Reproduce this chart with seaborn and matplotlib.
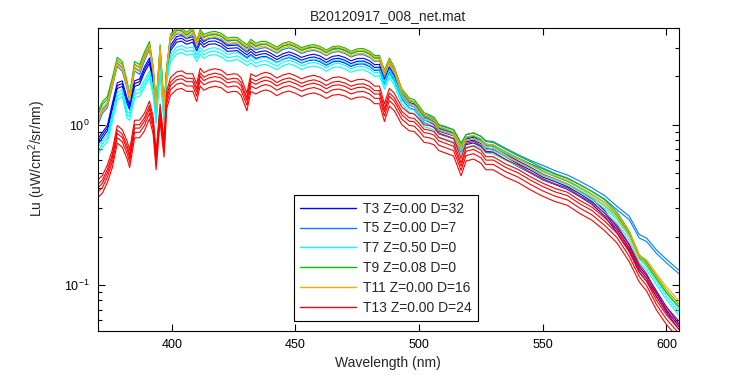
import numpy as np
import pandas as pd
import matplotlib
matplotlib.use("Agg")
import matplotlib.pyplot as plt
from matplotlib.ticker import NullFormatter, FixedLocator
import seaborn as sns

# ---------------- data ----------------
wavelength = [370, 372, 374, 376, 378, 380, 382, 383, 385, 387,
              389, 391, 392.5, 393.7, 395.3, 396.9, 398, 399.5, 402, 404,
              406, 408.5, 410.1, 411.5, 413, 415, 417.5, 420, 422.5, 425,
              426.5, 428, 430.4, 432, 434, 436, 438, 440, 442.5, 445,
              447.5, 450, 452.5, 455, 457.5, 460, 462.5, 465, 467.5, 470,
              472.5, 475, 477.5, 480, 482, 484, 486, 488, 490, 493,
              496, 498, 500, 502, 504, 506, 508, 511, 514, 517,
              519, 522, 525, 527, 530, 535, 540, 545, 550, 555,
              560, 565, 570, 575, 580, 585, 589, 592, 596, 600,
              605]

lu_t3 = [0.78, 0.86, 0.95, 1.3, 1.75, 1.8, 1.4, 1.29, 1.8, 1.85,
         2.2, 2.5, 1.9, 1.12, 2.65, 1.12, 2.2, 3.0, 3.4, 3.45,
         3.3, 3.4, 3.0, 3.35, 3.16, 3.3, 3.32, 3.2, 2.98, 3.0,
         3.01, 2.9, 2.72, 2.85, 2.69, 2.75, 2.77, 2.68, 2.54, 2.66,
         2.73, 2.64, 2.52, 2.6, 2.64, 2.57, 2.44, 2.56, 2.59, 2.52,
         2.4, 2.48, 2.49, 2.4, 2.27, 2.28, 1.85, 2.2, 1.95, 1.5,
         1.32, 1.29, 1.18, 1.07, 1.04, 1.0, 0.91, 0.88, 0.85, 0.7,
         0.78, 0.8, 0.76, 0.71, 0.7, 0.63, 0.57, 0.52, 0.47, 0.44,
         0.41, 0.37, 0.33, 0.28, 0.22, 0.17, 0.125, 0.11, 0.088, 0.07,
         0.055]

lu_t5 = [1.0, 1.2, 1.3, 1.75, 2.35, 2.2, 1.7, 1.42, 2.2, 2.1,
         2.55, 3.0, 2.1, 1.25, 2.9, 1.2, 2.1, 3.4, 3.75, 3.73,
         3.5, 3.75, 3.1, 3.65, 3.4, 3.5, 3.54, 3.45, 3.22, 3.25,
         3.24, 3.1, 2.9, 3.15, 2.98, 3.05, 3.08, 2.98, 2.84, 3.0,
         3.07, 2.97, 2.83, 2.92, 2.96, 2.88, 2.74, 2.88, 2.91, 2.83,
         2.69, 2.78, 2.78, 2.68, 2.53, 2.54, 2.05, 2.45, 2.15, 1.58,
         1.38, 1.35, 1.24, 1.12, 1.1, 1.06, 0.96, 0.93, 0.9, 0.74,
         0.84, 0.86, 0.82, 0.77, 0.76, 0.69, 0.63, 0.58, 0.54, 0.5,
         0.47, 0.43, 0.39, 0.35, 0.3, 0.26, 0.2, 0.19, 0.16, 0.14,
         0.12]

lu_t7 = [0.68, 0.76, 0.82, 1.1, 1.5, 1.58, 1.15, 1.12, 1.55, 1.58,
         1.8, 2.05, 1.6, 1.06, 2.2, 1.06, 1.9, 2.6, 2.9, 2.96,
         2.85, 2.9, 2.6, 2.88, 2.72, 2.84, 2.87, 2.78, 2.61, 2.65,
         2.68, 2.6, 2.45, 2.55, 2.41, 2.48, 2.5, 2.42, 2.31, 2.45,
         2.52, 2.44, 2.32, 2.4, 2.44, 2.38, 2.26, 2.38, 2.41, 2.34,
         2.23, 2.3, 2.31, 2.22, 2.1, 2.12, 1.75, 2.08, 1.85, 1.42,
         1.26, 1.23, 1.13, 1.02, 1.0, 0.97, 0.88, 0.85, 0.82, 0.68,
         0.76, 0.78, 0.75, 0.7, 0.69, 0.63, 0.58, 0.53, 0.48, 0.45,
         0.42, 0.38, 0.34, 0.3, 0.255, 0.2, 0.145, 0.13, 0.105, 0.085,
         0.068]

lu_t9 = [1.15, 1.35, 1.45, 1.9, 2.55, 2.4, 1.8, 1.5, 2.4, 2.3,
         2.75, 3.2, 2.25, 1.32, 3.05, 1.28, 2.25, 3.55, 3.9, 3.89,
         3.65, 3.9, 3.25, 3.8, 3.54, 3.65, 3.7, 3.6, 3.36, 3.4,
         3.39, 3.25, 3.05, 3.3, 3.12, 3.2, 3.21, 3.1, 2.95, 3.12,
         3.19, 3.08, 2.93, 3.02, 3.06, 2.98, 2.83, 2.97, 3.0, 2.92,
         2.78, 2.88, 2.89, 2.78, 2.62, 2.62, 2.12, 2.52, 2.22, 1.62,
         1.42, 1.39, 1.27, 1.15, 1.12, 1.08, 0.97, 0.94, 0.9, 0.74,
         0.84, 0.86, 0.82, 0.76, 0.75, 0.68, 0.62, 0.57, 0.52, 0.48,
         0.45, 0.41, 0.37, 0.33, 0.275, 0.21, 0.15, 0.135, 0.11, 0.09,
         0.074]

lu_t11 = [1.05, 1.25, 1.35, 1.8, 2.45, 2.3, 1.75, 1.46, 2.3, 2.2,
          2.65, 3.1, 2.2, 1.3, 3.0, 1.25, 2.2, 3.5, 3.85, 3.84,
          3.6, 3.85, 3.2, 3.75, 3.49, 3.6, 3.65, 3.55, 3.31, 3.35,
          3.34, 3.2, 3.0, 3.25, 3.07, 3.15, 3.16, 3.05, 2.92, 3.1,
          3.17, 3.05, 2.9, 3.0, 3.03, 2.95, 2.8, 2.95, 2.98, 2.9,
          2.76, 2.85, 2.86, 2.75, 2.59, 2.6, 2.1, 2.5, 2.2, 1.6,
          1.4, 1.36, 1.25, 1.13, 1.1, 1.06, 0.95, 0.92, 0.88, 0.72,
          0.82, 0.84, 0.8, 0.74, 0.73, 0.66, 0.6, 0.55, 0.5, 0.47,
          0.44, 0.4, 0.36, 0.32, 0.27, 0.21, 0.15, 0.14, 0.115, 0.095,
          0.078]

lu_t13 = [0.4, 0.43, 0.5, 0.62, 0.88, 0.83, 0.7, 0.62, 0.95, 0.95,
          1.05, 1.25, 1.0, 0.6, 1.2, 0.72, 1.45, 1.75, 1.9, 1.93,
          1.85, 1.85, 1.6, 2.0, 1.88, 1.95, 1.99, 1.95, 1.82, 1.85,
          1.84, 1.75, 1.4, 1.85, 1.78, 1.85, 1.89, 1.85, 1.74, 1.82,
          1.86, 1.8, 1.72, 1.78, 1.81, 1.76, 1.67, 1.75, 1.77, 1.73,
          1.65, 1.7, 1.71, 1.65, 1.55, 1.55, 1.2, 1.5, 1.4, 1.15,
          1.05, 1.04, 0.97, 0.89, 0.88, 0.86, 0.79, 0.76, 0.73, 0.55,
          0.68, 0.7, 0.66, 0.6, 0.6, 0.54, 0.5, 0.45, 0.41, 0.38,
          0.36, 0.32, 0.29, 0.25, 0.21, 0.16, 0.12, 0.105, 0.08, 0.065,
          0.053]

# relative level of the individual casts within each station (band spread)
gain_t3 = [1.04, 1.0, 0.96]
gain_t5 = [1.03, 0.98]
gain_t7 = [1.05, 1.0, 0.95]
gain_t9 = [1.03, 0.99]
gain_t11 = [1.02, 0.97]
gain_t13 = [1.12, 1.05, 1.0, 0.94, 0.87]

series_names = ["T3", "T5", "T7", "T9", "T11", "T13"]
legend_labels = ["T3 Z=0.00 D=32", "T5 Z=0.00 D=7", "T7 Z=0.50 D=0",
                 "T9 Z=0.08 D=0", "T11 Z=0.00 D=16", "T13 Z=0.00 D=24"]
series_values = [lu_t3, lu_t5, lu_t7, lu_t9, lu_t11, lu_t13]
series_gains = [gain_t3, gain_t5, gain_t7, gain_t9, gain_t11, gain_t13]
colors = ["#0000ff", "#0080ff", "#00ffff", "#00c000", "#ffa500", "#ff0000"]

for vals in series_values:
    assert len(vals) == len(wavelength)

rows = []
for name, vals, gains in zip(series_names, series_values, series_gains):
    for k, g in enumerate(gains):
        for w, v in zip(wavelength, vals):
            rows.append({"wl": w, "Lu": v * g, "series": name, "cast": f"{name}-{k}"})
df = pd.DataFrame(rows)

# ---------------- style ----------------
sns.set_style("ticks")
plt.rcParams["font.family"] = ["Liberation Sans", "DejaVu Sans"]
plt.rcParams["mathtext.fontset"] = "custom"
plt.rcParams["mathtext.rm"] = "Liberation Sans"
plt.rcParams["mathtext.it"] = "Liberation Sans"

fig = plt.figure(figsize=(7.5, 3.75), dpi=100)
fig.patch.set_facecolor("white")
ax = fig.add_axes([0.13, 0.1173, 0.775, 0.808])

palette = dict(zip(series_names, colors))
sns.lineplot(data=df, x="wl", y="Lu", hue="series", hue_order=series_names,
             units="cast", estimator=None, palette=palette, lw=0.8,
             sort=False, ax=ax, legend=True)

ax.set_yscale("log")
ax.set_xlim(370, 605)
ax.set_ylim(0.0515, 4.0)
ax.xaxis.set_major_locator(FixedLocator([400, 450, 500, 550, 600]))
ax.yaxis.set_minor_formatter(NullFormatter())

for s in ax.spines.values():
    s.set_visible(True)
    s.set_linewidth(0.8)
    s.set_color("black")
ax.tick_params(which="both", direction="in", top=True, right=True,
               colors="black", width=0.8, labelsize=9)
ax.tick_params(which="major", length=5)
ax.tick_params(which="minor", length=3)
ax.tick_params(axis="x", pad=6)
ax.tick_params(axis="y", pad=6)

ax.set_title("B20120917_008_net.mat", fontsize=10, pad=6)
ax.set_xlabel("Wavelength (nm)", fontsize=10, labelpad=3)
ax.set_ylabel("Lu (uW/cm$^{2}$/sr/nm)", fontsize=10, labelpad=4)
ax.yaxis.set_label_coords(-0.085, 0.57)

handles, _ = ax.get_legend_handles_labels()
handles = handles[:len(series_names)]
for h in handles:
    h.set_linewidth(1.0)
leg = ax.legend(handles, legend_labels, loc="lower left",
                bbox_to_anchor=(0.338, 0.033), fontsize=10, frameon=True,
                fancybox=False, shadow=False, framealpha=1.0,
                handlelength=4.0, handletextpad=0.5, labelspacing=0.42,
                borderpad=0.45, borderaxespad=0.0)
leg.get_frame().set_edgecolor("black")
leg.get_frame().set_linewidth(0.8)

fig.savefig("out.png", dpi=100, facecolor="white")
